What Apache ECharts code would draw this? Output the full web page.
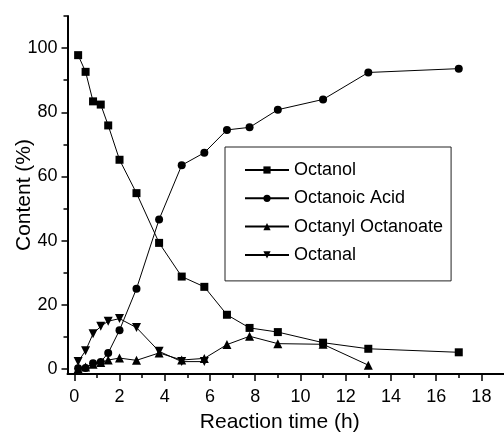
<!DOCTYPE html>
<html>
<head>
<meta charset="utf-8">
<script src="https://cdn.jsdelivr.net/npm/echarts@6/dist/echarts.min.js"></script>
<style>
html,body{margin:0;padding:0;background:#fff;}
#chart{width:504px;height:433px;}
</style>
</head>
<body>
<div id="chart"></div>
<script>
// Data
const seriesNames = ['Octanol', 'Octanoic Acid', 'Octanyl Octanoate', 'Octanal'];
const times = [0.17, 0.5, 0.83, 1.17, 1.5, 2, 2.75, 3.75, 4.75, 5.75, 6.75, 7.75, 9, 11, 13, 17];
const octanol = [97.8, 92.6, 83.4, 82.4, 75.9, 65.2, 54.8, 39.3, 28.8, 25.6, 16.9, 12.8, 11.5, 8.2, 6.3, 5.2];
const octanoicAcid = [0.2, 0.3, 1.8, 2.2, 5.0, 12.1, 25.0, 46.6, 63.5, 67.4, 74.5, 75.3, 80.8, 84.0, 92.4, 93.6];
const octanylOctanoate = [0.1, 0.6, 1.5, 2.0, 2.8, 3.4, 2.7, 5.0, 2.8, 3.3, 7.6, 10.2, 7.9, 7.7, 1.2];
const octanal = [2.3, 5.7, 11.0, 13.3, 14.9, 15.7, 12.9, 5.5, 2.3, 2.3];

const xMajorTicks = [0, 2, 4, 6, 8, 10, 12, 14, 16, 18];
const xMinorTicks = [1, 3, 5, 7, 9, 11, 13, 15, 17];
const yMajorTicks = [0, 20, 40, 60, 80, 100];
const yMinorTicks = [10, 30, 50, 70, 90, 110];

const pairs = (vals) => vals.map((v, i) => [times[i], v]);

const FONT = '"Liberation Sans", Arial, sans-serif';
const chart = echarts.init(document.getElementById('chart'), null, {renderer: 'canvas'});

const baseX = {
  type: 'value', min: -0.3, max: 19, position: 'bottom', gridIndex: 0,
  splitLine: {show: false}
};
const baseY = {
  type: 'value', min: -1.56, max: 110, position: 'left', gridIndex: 0,
  splitLine: {show: false}
};

const lineStyle = {color: '#000', width: 1};
const itemStyle = {color: '#000'};

chart.setOption({
  animation: false,
  backgroundColor: '#fff',
  textStyle: {fontFamily: FONT},
  grid: {left: 67.5, right: 0, top: 16, bottom: 59, outerBoundsMode: 'none', containLabel: false},
  legend: {
    orient: 'vertical', left: 225, top: 147,
    padding: [14, 8, 17, 19],
    borderColor: '#222', borderWidth: 1,
    itemWidth: 44, itemHeight: 9, itemGap: 10.3,
    textStyle: {fontFamily: FONT, fontSize: 18, color: '#000', lineHeight: 18},
    data: seriesNames
  },
  xAxis: [
    Object.assign({}, baseX, {
      name: 'Reaction time (h)', nameLocation: 'middle', nameGap: 38, nameMoveOverlap: false,
      nameTextStyle: {fontFamily: FONT, fontSize: 21, color: '#000', padding: [0, 12, 0, 0]},
      axisLine: {show: true, onZero: false, lineStyle: {color: '#000', width: 2}},
      axisTick: {show: true, inside: false, length: 7, customValues: xMajorTicks, lineStyle: {color: '#000', width: 1.5}},
      axisLabel: {show: true, margin: 14, fontSize: 18, color: '#000', fontFamily: FONT, customValues: xMajorTicks}
    }),
    Object.assign({}, baseX, {
      axisLine: {show: false, onZero: false},
      axisTick: {show: true, inside: false, length: 4, customValues: xMinorTicks, lineStyle: {color: '#000', width: 1.5}},
      axisLabel: {show: false}
    })
  ],
  yAxis: [
    Object.assign({}, baseY, {
      name: 'Content (%)', nameLocation: 'middle', nameGap: 33, nameRotate: 90, nameMoveOverlap: false,
      nameTextStyle: {fontFamily: FONT, fontSize: 21, color: '#000'},
      axisLine: {show: true, onZero: false, lineStyle: {color: '#000', width: 2}},
      axisTick: {show: true, inside: false, length: 6, customValues: yMajorTicks, lineStyle: {color: '#000', width: 1.5}},
      axisLabel: {show: true, margin: 10, fontSize: 18, color: '#000', fontFamily: FONT, customValues: yMajorTicks}
    }),
    Object.assign({}, baseY, {
      axisLine: {show: false, onZero: false},
      axisTick: {show: true, inside: false, length: 4, customValues: yMinorTicks, lineStyle: {color: '#000', width: 1.5}},
      axisLabel: {show: false}
    })
  ],
  series: [
    {name: seriesNames[0], type: 'line', xAxisIndex: 0, yAxisIndex: 0, data: pairs(octanol),
     symbol: 'rect', symbolSize: 8, lineStyle, itemStyle},
    {name: seriesNames[1], type: 'line', xAxisIndex: 0, yAxisIndex: 0, data: pairs(octanoicAcid),
     symbol: 'circle', symbolSize: 8, lineStyle, itemStyle},
    {name: seriesNames[2], type: 'line', xAxisIndex: 0, yAxisIndex: 0, data: pairs(octanylOctanoate),
     symbol: 'triangle', symbolSize: 9, lineStyle, itemStyle},
    {name: seriesNames[3], type: 'line', xAxisIndex: 0, yAxisIndex: 0, data: pairs(octanal),
     symbol: 'path://M0,0L10,0L5,9Z', symbolSize: 9, lineStyle, itemStyle}
  ]
});
</script>
</body>
</html>
